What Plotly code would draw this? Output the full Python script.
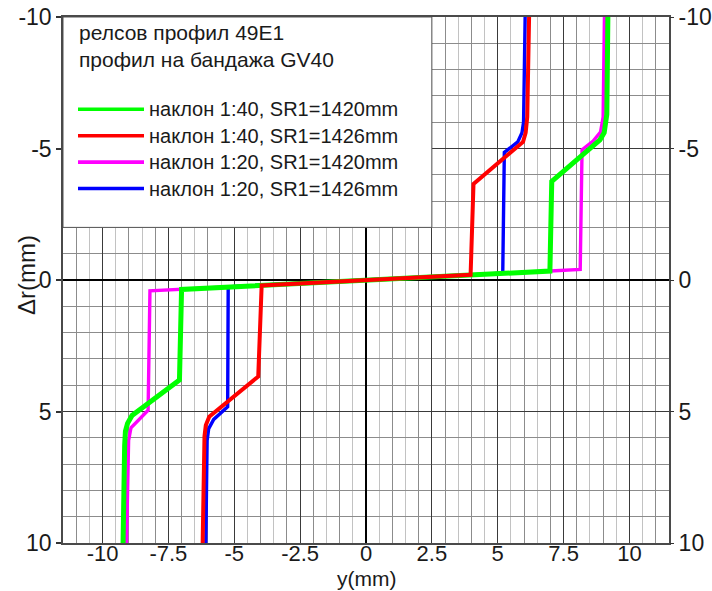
import plotly.graph_objects as go

# ---- data (y in mm, delta r in mm) ----
green_y  = [9.18, 9.14, 9.04, 8.88, 7.05, 6.98, -7.00, -7.08, -8.88, -9.05, -9.13, -9.16, -9.22]
green_dr = [-10.0, -6.3, -5.6, -5.33, -3.75, -0.34, 0.36, 3.80, 5.15, 5.45, 5.75, 6.3, 10.0]

red_y  = [6.19, 6.12, 6.06, 5.96, 4.08, 3.97, -3.96, -4.09, -5.95, -6.08, -6.13, -6.20]
red_dr = [-10.0, -6.2, -5.6, -5.25, -3.65, -0.20, 0.21, 3.67, 5.20, 5.52, 5.95, 10.0]

mag_y  = [9.05, 9.00, 8.90, 8.62, 8.20, 8.13, 7.00, -7.00, -8.20, -8.27, -8.62, -8.92, -9.01, -9.09]
mag_dr = [-10.0, -6.2, -5.62, -5.28, -4.95, -0.40, -0.34, 0.36, 0.41, 4.95, 5.30, 5.62, 6.10, 10.0]

blue_y  = [6.04, 5.98, 5.92, 5.76, 5.25, 5.19, -5.23, -5.25, -5.78, -5.97, -6.03, -6.08]
blue_dr = [-10.0, -6.0, -5.6, -5.25, -4.85, -0.26, 0.26, 4.82, 5.30, 5.65, 6.1, 10.0]

series_names = [
    "наклон 1:40, SR1=1420mm",
    "наклон 1:40, SR1=1426mm",
    "наклон 1:20, SR1=1420mm",
    "наклон 1:20, SR1=1426mm",
]
series_colors = ["#00ff00", "#ff0000", "#ff00ff", "#0000ff"]
title_lines = ["релсов профил 49E1", "профил на бандажа GV40"]

x_ticks = [-10, -7.5, -5, -2.5, 0, 2.5, 5, 7.5, 10]
x_tick_text = ["-10", "-7.5", "-5", "-2.5", "0", "2.5", "5", "7.5", "10"]
y_ticks = [-10, -5, 0, 5, 10]
y_tick_text = ["-10", "-5", "0", "5", "10"]

XR = [-11.5, 11.5]
YR = [10, -10]

W, H = 712, 591
ML, MR, MT, MB = 63, 43, 17, 48
PW, PH = W - ML - MR, H - MT - MB


def px(xp):
    return (xp - ML) / PW


def py(yp):
    return (H - MB - yp) / PH


FONT = "Liberation Sans, Arial, sans-serif"
TXT = "#1a1a1a"
TICKF = dict(size=23, color=TXT, family=FONT)

fig = go.Figure()

# draw order: magenta, blue, green, red (red on top)
fig.add_trace(go.Scatter(x=mag_y, y=mag_dr, mode="lines", name=series_names[2],
                         line=dict(color=series_colors[2], width=3.4), showlegend=False))
fig.add_trace(go.Scatter(x=blue_y, y=blue_dr, mode="lines", name=series_names[3],
                         line=dict(color=series_colors[3], width=3.4), showlegend=False))
fig.add_trace(go.Scatter(x=green_y, y=green_dr, mode="lines", name=series_names[0],
                         line=dict(color=series_colors[0], width=5), showlegend=False))
fig.add_trace(go.Scatter(x=red_y, y=red_dr, mode="lines", name=series_names[1],
                         line=dict(color=series_colors[1], width=4), showlegend=False))
# empty traces to activate overlay axes
fig.add_trace(go.Scatter(x=[], y=[], xaxis="x2", yaxis="y", showlegend=False, hoverinfo="skip"))
fig.add_trace(go.Scatter(x=[], y=[], xaxis="x", yaxis="y2", showlegend=False, hoverinfo="skip"))

fig.update_layout(
    width=W, height=H,
    margin=dict(l=ML, r=MR, t=MT, b=MB, autoexpand=False),
    paper_bgcolor="white", plot_bgcolor="white",
    showlegend=False,
    font=dict(family=FONT, color=TXT),
    xaxis=dict(
        range=XR, dtick=1, tick0=0, showgrid=True, gridcolor="#8c8c8c", gridwidth=1,
        minor=dict(dtick=0.5, tick0=0, showgrid=True, gridcolor="#c2c2c2", gridwidth=1),
        zeroline=True, zerolinecolor="#000000", zerolinewidth=2,
        showticklabels=False, ticks="", automargin=False,
        showline=True, linecolor="#4a4a4a", linewidth=1.5, mirror=True,
    ),
    xaxis2=dict(
        range=XR, overlaying="x", side="bottom", anchor="y",
        tickmode="array", tickvals=x_ticks, ticktext=x_tick_text,
        showgrid=True, gridcolor="#3a3a3a", gridwidth=1, zeroline=False,
        ticks="", ticklabelstandoff=-5, automargin=False,
        tickfont=dict(size=22, color=TXT, family=FONT), showline=False,
    ),
    yaxis=dict(
        range=YR, tickmode="array", tickvals=y_ticks, ticktext=y_tick_text,
        showgrid=True, gridcolor="#3a3a3a", gridwidth=1,
        minor=dict(dtick=1, tick0=0, showgrid=True, gridcolor="#8c8c8c", gridwidth=1),
        zeroline=True, zerolinecolor="#000000", zerolinewidth=2,
        ticks="outside", ticklen=5, tickcolor="#333", tickwidth=1.5,
        tickfont=TICKF, automargin=False,
        showline=True, linecolor="#4a4a4a", linewidth=1.5, mirror=True,
    ),
    yaxis2=dict(
        range=YR, overlaying="y", side="right", anchor="x",
        tickmode="array", tickvals=y_ticks, ticktext=y_tick_text,
        showgrid=False, zeroline=False, automargin=False,
        ticks="outside", ticklen=4, tickcolor="#333",
        tickfont=TICKF,
    ),
)

shapes = []
# white legend panel covering the grid (top-left), between gridlines and traces
shapes.append(dict(type="rect", xref="x", yref="y", x0=XR[0], x1=2.5, y0=-10, y1=-2,
                   fillcolor="white", line=dict(color="#555555", width=1), layer="between"))
annotations = []
# legend title lines
for i, t in enumerate(title_lines):
    annotations.append(dict(xref="paper", yref="paper", x=px(77), y=py(32.5 + 27.5 * i),
                            xanchor="left", yanchor="middle", showarrow=False, text=t,
                            font=dict(size=21, color=TXT, family=FONT)))
# legend entries (order: green, red, magenta, blue)
for i, (nm, col) in enumerate(zip(series_names, series_colors)):
    yy = 109.3 + 26.4 * i
    shapes.append(dict(type="line", xref="paper", yref="paper", x0=px(78), x1=px(144),
                       y0=py(yy), y1=py(yy), line=dict(color=col, width=3.6), layer="above"))
    annotations.append(dict(xref="paper", yref="paper", x=px(147), y=py(yy),
                            xanchor="left", yanchor="middle", showarrow=False, text=nm,
                            font=dict(size=20, color=TXT, family=FONT)))
# axis titles
annotations.append(dict(xref="paper", yref="paper", x=px(26), y=py(275), textangle=-90,
                        xanchor="center", yanchor="middle", showarrow=False, text="Δr(mm)",
                        font=dict(size=24, color=TXT, family=FONT)))
annotations.append(dict(xref="paper", yref="paper", x=0.5, y=py(578), borderpad=0,
                        xanchor="center", yanchor="middle", showarrow=False, text="y(mm)",
                        font=dict(size=21, color=TXT, family=FONT)))

fig.update_layout(shapes=shapes, annotations=annotations)
fig.write_html("out.html")
